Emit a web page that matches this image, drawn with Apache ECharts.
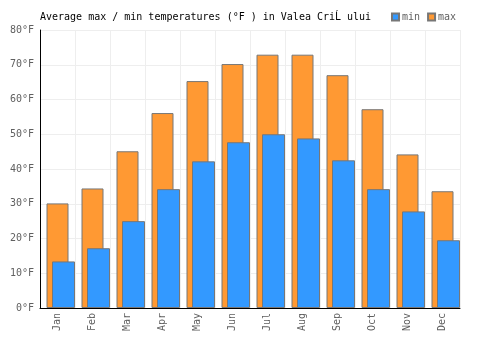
<!DOCTYPE html>
<html>
<head>
<meta charset="utf-8">
<script src="https://cdn.jsdelivr.net/npm/echarts@6/dist/echarts.min.js"></script>
<style>
  html, body { margin: 0; padding: 0; background: #fff; }
  #chart { width: 500px; height: 350px; }
</style>
</head>
<body>
<div id="chart"></div>
<script>
const months = ['Jan', 'Feb', 'Mar', 'Apr', 'May', 'Jun', 'Jul', 'Aug', 'Sep', 'Oct', 'Nov', 'Dec'];
const maxTemps = [30.1, 34.4, 45.1, 56.1, 65.3, 70.2, 72.9, 72.9, 67.0, 57.2, 44.2, 33.6];
const minTemps = [13.4, 17.2, 25.0, 34.2, 42.2, 47.7, 50.0, 48.8, 42.5, 34.2, 27.8, 19.5];

const font = 'DejaVu Sans Mono';
const gridColor = '#eeeeee';
const labelColor = '#606060';

const chart = echarts.init(document.getElementById('chart'), null, { renderer: 'canvas' });

const option = {
  animation: false,
  backgroundColor: '#ffffff',
  title: {
    text: 'Average max / min temperatures (°F ) in Valea CriĹ ului',
    left: 40,
    top: 12,
    padding: 0,
    textStyle: { fontFamily: font, fontSize: 10, fontWeight: 'normal', color: '#000' },
  },
  legend: {
    left: 391,
    top: 12,
    padding: 0,
    itemWidth: 7,
    itemHeight: 7,
    itemGap: 7,
    icon: 'rect',
    data: ['min', 'max'],
    textStyle: { fontFamily: font, fontSize: 10, color: labelColor, padding: [0, 0, 0, -2] },
  },
  grid: [
    { left: 40, right: 40, top: 30, bottom: 42 },
    { left: 46, right: 34, top: 30, bottom: 42 },
  ],
  xAxis: [
    {
      type: 'category',
      gridIndex: 0,
      data: months,
      axisLine: { lineStyle: { color: '#000', width: 1 } },
      axisTick: { show: false },
      axisLabel: { rotate: 90, margin: 5, color: labelColor, fontFamily: font, fontSize: 10, interval: 0 },
      splitLine: { show: true, lineStyle: { color: gridColor } },
    },
    {
      type: 'category',
      gridIndex: 1,
      data: months,
      show: false,
    },
  ],
  yAxis: [
    {
      type: 'value',
      gridIndex: 0,
      min: 0,
      max: 80,
      interval: 10,
      axisLine: { show: true, lineStyle: { color: '#000', width: 1 } },
      axisTick: { show: false },
      axisLabel: { formatter: '{value}°F', margin: 6, color: labelColor, fontFamily: font, fontSize: 10 },
      splitLine: { show: true, lineStyle: { color: gridColor } },
    },
    {
      type: 'value',
      gridIndex: 1,
      min: 0,
      max: 80,
      interval: 10,
      show: false,
      splitLine: { show: false },
    },
  ],
  series: [
    {
      name: 'max',
      type: 'bar',
      xAxisIndex: 0,
      yAxisIndex: 0,
      barWidth: 22,
      data: maxTemps,
      itemStyle: { color: '#ff9933', borderColor: '#777777', borderWidth: 1, borderRadius: 0 },
    },
    {
      name: 'min',
      type: 'bar',
      xAxisIndex: 1,
      yAxisIndex: 1,
      barWidth: 23,
      data: minTemps,
      itemStyle: { color: '#3399ff', borderColor: '#777777', borderWidth: 1, borderRadius: 0 },
    },
  ],
};

chart.setOption(option);
</script>
</body>
</html>
